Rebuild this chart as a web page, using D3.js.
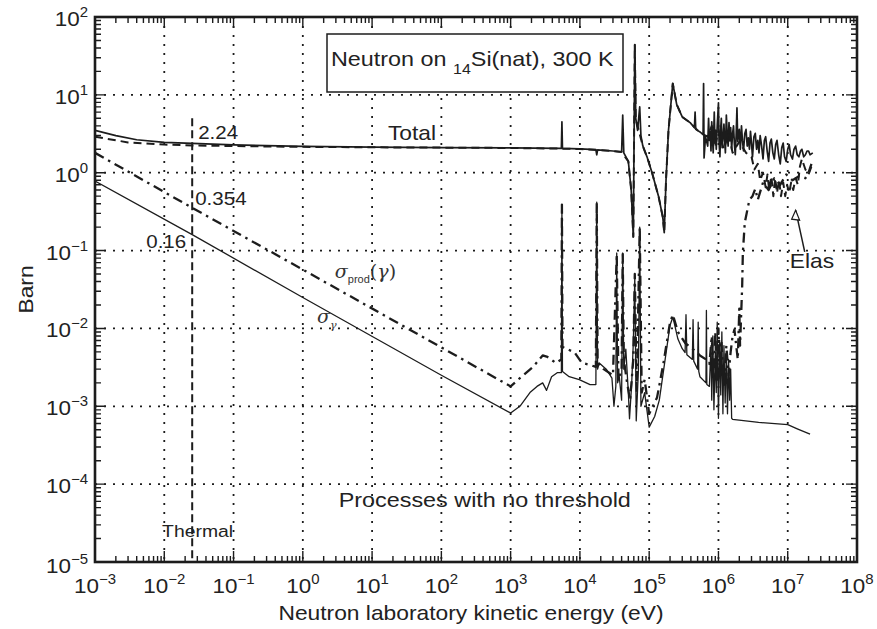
<!DOCTYPE html>
<html>
<head>
<meta charset="utf-8">
<script src="https://cdn.jsdelivr.net/npm/d3@7"></script>
<style>
body { margin: 0; background: #fff; }
svg { font-family: "Liberation Sans", Arial, sans-serif; }
</style>
</head>
<body>
<div class="chart"></div>
<script>
// axis decades (exponents)
const xTickExp = [-3, -2, -1, 0, 1, 2, 3, 4, 5, 6, 7, 8];
const yTickExp = [-5, -4, -3, -2, -1, 0, 1, 2];

const thermalE = 0.0253;

// [energy eV, barn]
const totalXS = [
  [1e-3, 3.5], [2e-3, 3.0], [4e-3, 2.65], [1e-2, 2.45], [2.53e-2, 2.38], [0.1, 2.28],
  [1, 2.18], [10, 2.13], [100, 2.1], [1e3, 2.08], [5.4e3, 2.05], [5.5e3, 4.5], [5.6e3, 2.05],
  [1e4, 2.02], [1.7e4, 1.98], [1.75e4, 1.7], [1.8e4, 1.97], [3.0e4, 1.9], [4.0e4, 1.85],
  [4.15e4, 5.5], [4.3e4, 1.8], [5.0e4, 1.4], [5.5e4, 0.6], [5.9e4, 0.15], [6.2e4, 44],
  [6.4e4, 5], [6.8e4, 3.5], [7.3e4, 7], [7.6e4, 3], [8.1e4, 2.2], [9.3e4, 1.6], [1.1e5, 1.0],
  [1.37e5, 0.49], [1.57e5, 0.27], [1.65e5, 0.17], [1.75e5, 0.8], [1.9e5, 3.5], [2.19e5, 14],
  [2.5e5, 7.5], [3.0e5, 5.2], [3.9e5, 4.4], [4.5e5, 3.8], [4.6e5, 6.0], [4.7e5, 3.6],
  [5.5e5, 3.3], [6.0e5, 3.1], [6.1e5, 14], [6.2e5, 1.55], [6.5e5, 2.9],
  [7.0e5, 2.2], [7.2e5, 5.0], [7.4e5, 2.6], [7.6e5, 3.4], [7.8e5, 1.9], [8.0e5, 4.5],
  [8.2e5, 2.8], [8.4e5, 1.8], [8.7e5, 6.0], [8.9e5, 2.4], [9.1e5, 3.5], [9.3e5, 2.0],
  [9.6e5, 4.0], [1.0e6, 7.9], [1.02e6, 2.5], [1.05e6, 1.6], [1.08e6, 3.8], [1.1e6, 5.0],
  [1.13e6, 2.1], [1.17e6, 3.0], [1.2e6, 4.2], [1.23e6, 2.6], [1.26e6, 1.8], [1.3e6, 5.5],
  [1.34e6, 3.0], [1.38e6, 2.2], [1.42e6, 4.4], [1.46e6, 2.6], [1.5e6, 3.8], [1.55e6, 2.0],
  [1.6e6, 3.2], [1.65e6, 4.0], [1.7e6, 2.3], [1.75e6, 1.7], [1.8e6, 3.0], [1.85e6, 6.8],
  [1.9e6, 2.5], [2.0e6, 3.6], [2.07e6, 2.0], [2.15e6, 4.0], [2.22e6, 2.6], [2.3e6, 1.9],
  [2.4e6, 3.2], [2.5e6, 3.6], [2.6e6, 2.2], [2.7e6, 2.8], [2.8e6, 2.0], [2.9e6, 3.4],
  [3.0e6, 2.4], [3.1e6, 1.6], [3.25e6, 2.9], [3.4e6, 3.2], [3.55e6, 2.0], [3.7e6, 2.6],
  [3.85e6, 1.8], [4.0e6, 3.0], [4.2e6, 2.2], [4.4e6, 1.5], [4.6e6, 2.6], [4.8e6, 2.9],
  [5.05e6, 1.9], [5.3e6, 1.4], [5.55e6, 2.4], [5.8e6, 2.7], [6.1e6, 1.8], [6.4e6, 1.5],
  [6.7e6, 2.3], [7.0e6, 2.6], [7.4e6, 1.7], [7.8e6, 1.3], [8.2e6, 2.1], [8.6e6, 2.4],
  [9.0e6, 1.6], [9.5e6, 1.4], [1.0e7, 2.0], [1.05e7, 2.3], [1.1e7, 1.7], [1.17e7, 1.5],
  [1.23e7, 2.0], [1.3e7, 2.2], [1.37e7, 1.7], [1.45e7, 1.6], [1.53e7, 1.9], [1.6e7, 2.0],
  [1.7e7, 1.6], [1.8e7, 1.7], [1.9e7, 1.9], [2.0e7, 1.9], [2.1e7, 1.7], [2.3e7, 1.8]
];

const elasticXS = [
  [1e-3, 2.9], [3e-3, 2.45], [1e-2, 2.3], [2.53e-2, 2.24], [0.1, 2.2], [1, 2.15],
  [10, 2.12], [100, 2.1], [1e3, 2.08], [1e4, 2.02], [3e4, 1.9], [4.0e4, 1.85], [5.0e4, 1.4],
  [5.5e4, 0.6], [5.9e4, 0.15], [6.2e4, 44], [6.4e4, 5], [7.0e4, 3.6], [8.1e4, 2.2],
  [9.3e4, 1.6], [1.1e5, 1.0], [1.37e5, 0.49], [1.57e5, 0.27], [1.65e5, 0.17], [1.75e5, 0.8],
  [1.9e5, 3.5], [2.19e5, 14], [2.5e5, 7.5], [3.0e5, 5.2], [3.9e5, 4.4], [5e5, 3.5],
  [6e5, 3.1], [7e5, 2.9], [8e5, 4.0], [9e5, 2.2], [1e6, 3.5], [1.2e6, 2.0], [1.4e6, 3.2],
  [1.6e6, 1.8], [2.0e6, 2.5], [2.5e6, 1.8], [3.0e6, 1.6], [3.3e6, 1.1], [3.7e6, 1.3],
  [4.0e6, 0.8], [4.4e6, 1.0], [4.8e6, 0.65], [5.1e6, 0.95], [5.4e6, 0.6], [5.8e6, 0.9],
  [6.2e6, 0.5], [6.6e6, 0.85], [7.0e6, 0.55], [7.5e6, 0.8], [8.0e6, 0.5], [8.6e6, 0.75],
  [9.2e6, 0.5], [9.8e6, 0.7], [1.05e7, 0.55], [1.12e7, 0.75], [1.2e7, 0.6], [1.3e7, 0.85],
  [1.4e7, 0.7], [1.5e7, 1.2], [1.6e7, 1.5], [1.8e7, 1.1], [2.0e7, 0.95], [2.2e7, 1.2]
];

const gammaProdXS = [
  [1e-3, 1.8], [2.53e-2, 0.354], [1, 0.057], [100, 5.7e-3], [1e3, 1.8e-3], [1.36e3, 2.3e-3],
  [2.1e3, 3.2e-3], [2.9e3, 4.5e-3], [3.4e3, 4.3e-3], [4.5e3, 3.6e-3], [5.4e3, 4.0e-3],
  [5.5e3, 0.39], [5.6e3, 5.8e-3], [8.4e3, 4.9e-3], [1.07e4, 3.6e-3], [1.4e4, 3.4e-3],
  [1.7e4, 3.2e-3], [1.75e4, 0.42], [1.8e4, 3.6e-3], [2.2e4, 3.0e-3], [3.0e4, 2.5e-3],
  [3.4e4, 0.09], [3.6e4, 2.2e-3], [4.0e4, 3.0e-3], [4.15e4, 0.09], [4.3e4, 4.0e-3],
  [4.8e4, 2.0e-3], [5.3e4, 1.2e-3], [5.9e4, 4.0e-3], [6.2e4, 0.05], [6.6e4, 1.5e-3],
  [7.3e4, 0.2], [7.8e4, 1.5e-3], [8.6e4, 2.2e-3], [1.0e5, 8e-4], [1.3e5, 1.3e-3],
  [1.6e5, 3.5e-3], [2.0e5, 1.2e-2], [2.2e5, 1.5e-2], [2.6e5, 9e-3], [3.3e5, 6.5e-3],
  [4.2e5, 5.5e-3], [5.4e5, 4.5e-3], [6.6e5, 4.0e-3], [7.4e5, 3.5e-3], [8.0e5, 8e-3],
  [8.5e5, 2.5e-3], [9.0e5, 9e-3], [9.5e5, 2e-3], [1.0e6, 1.0e-2], [1.05e6, 2.5e-3],
  [1.1e6, 7e-3], [1.2e6, 1.8e-3], [1.3e6, 6e-3], [1.4e6, 2.5e-3], [1.5e6, 5e-3],
  [1.6e6, 8e-3], [1.7e6, 9.7e-3], [1.9e6, 4e-3], [2.0e6, 1.8e-2], [2.05e6, 6e-3],
  [2.2e6, 3.5e-2], [2.25e6, 0.094], [2.4e6, 0.23], [2.8e6, 0.45], [3.1e6, 0.5],
  [3.4e6, 0.62], [3.7e6, 0.45], [4.4e6, 0.75], [5.3e6, 0.6], [6.4e6, 0.85], [7.8e6, 0.7],
  [9.5e6, 0.95], [1.17e7, 0.8], [1.45e7, 0.9], [1.8e7, 0.85], [2.0e7, 1.0], [2.2e7, 1.3]
];

const captureXS = [
  [1e-3, 0.78], [2.53e-2, 0.16], [1, 0.025], [100, 2.5e-3], [1e3, 8.2e-4], [1.36e3, 1.0e-3],
  [1.9e3, 1.5e-3], [2.4e3, 1.8e-3], [2.9e3, 2.0e-3], [3.3e3, 1.6e-3], [3.9e3, 2.4e-3],
  [4.7e3, 2.7e-3], [5.4e3, 2.7e-3], [5.5e3, 0.39], [5.6e3, 2.8e-3], [7.0e3, 2.4e-3],
  [9.8e3, 2.2e-3], [1.4e4, 1.9e-3], [1.7e4, 1.9e-3], [1.75e4, 0.42], [1.8e4, 3.0e-3],
  [1.9e4, 3.6e-3], [2.4e4, 3.0e-3], [2.9e4, 2.3e-3], [3.1e4, 1.0e-3], [3.3e4, 1.8e-3],
  [3.4e4, 0.093], [3.5e4, 2.0e-3], [3.7e4, 2.4e-3], [4.0e4, 1.2e-3], [4.15e4, 0.093],
  [4.3e4, 3.0e-3], [4.6e4, 5.4e-3], [5.0e4, 1.5e-3], [5.2e4, 6.9e-4], [5.6e4, 2.0e-3],
  [5.9e4, 6.6e-3], [6.2e4, 0.045], [6.5e4, 6.5e-4], [7.0e4, 3e-3], [7.3e4, 0.2],
  [7.6e4, 1.0e-3], [8.6e4, 1.5e-3], [1.0e5, 5.4e-4], [1.2e5, 7.4e-4], [1.4e5, 1.2e-3],
  [1.7e5, 4.0e-3], [2.0e5, 1.1e-2], [2.2e5, 1.4e-2], [2.6e5, 7.3e-3], [3.0e5, 5.5e-3],
  [3.3e5, 4.9e-3], [3.4e5, 1.5e-2], [3.5e5, 4.6e-3], [4.2e5, 4.0e-3], [4.3e5, 1.3e-2],
  [4.4e5, 3.8e-3], [5.0e5, 3.0e-3], [5.1e5, 1.2e-2], [5.2e5, 2.8e-3], [5.4e5, 2.4e-3],
  [6.6e5, 2.0e-3], [6.7e5, 1.7e-2], [6.8e5, 1.9e-3], [7.4e5, 1.8e-3], [7.8e5, 6e-3],
  [8.0e5, 1.2e-3], [8.3e5, 8e-3], [8.6e5, 9e-4], [9.0e5, 5e-3], [9.3e5, 1.5e-3],
  [9.6e5, 1.2e-2], [1.0e6, 7e-4], [1.04e6, 7e-3], [1.08e6, 1.4e-3], [1.12e6, 9e-3],
  [1.16e6, 8e-4], [1.2e6, 6e-3], [1.25e6, 1.1e-3], [1.3e6, 5e-3], [1.35e6, 8e-4],
  [1.4e6, 4e-3], [1.45e6, 1.2e-3], [1.5e6, 3e-3], [1.55e6, 7e-4], [1.6e6, 6.8e-4],
  [3.8e6, 6.2e-4], [1.0e7, 5.8e-4], [1.4e7, 5.1e-4], [2.1e7, 4.4e-4]
];

const margin = {top: 17, right: 20, bottom: 67, left: 95};
const width = 877, height = 629;
const plotW = width - margin.left - margin.right,
    plotH = height - margin.top - margin.bottom;
const ink = "#1c1c1c";
const stretch = 1.14; // the lettering in the scan is a bit wide

const svg = d3.select(".chart").append("svg")
    .attr("width", width)
    .attr("height", height);

const g = svg.append("g")
    .attr("transform", "translate(" + margin.left + "," + margin.top + ")");

const xScale = d3.scaleLog().domain([1e-3, 1e8]).range([0, plotW]);
const yScale = d3.scaleLog().domain([1e-5, 1e2]).range([plotH, 0]);

// text placed at (x,y), widened horizontally
function label(parent, x, y, size, sx, anchor) {
  return parent.append("text")
    .attr("transform", "translate(" + x + "," + y + ") scale(" + (sx || stretch) + ",1)")
    .attr("font-size", size)
    .attr("text-anchor", anchor || "start")
    .attr("fill", "#222");
}

g.append("clipPath").attr("id", "plotclip")
  .append("rect").attr("width", plotW).attr("height", plotH);

// dotted grid
const grid = g.append("g").attr("stroke", ink).attr("stroke-width", 1.8)
    .attr("stroke-dasharray", "2,7");
grid.selectAll(".vg").data(xTickExp.slice(1, -1)).enter().append("line")
    .attr("x1", d => xScale(Math.pow(10, d))).attr("x2", d => xScale(Math.pow(10, d)))
    .attr("y1", 0).attr("y2", plotH);
grid.selectAll(".hg").data(yTickExp.slice(1, -1)).enter().append("line")
    .attr("y1", d => yScale(Math.pow(10, d))).attr("y2", d => yScale(Math.pow(10, d)))
    .attr("x1", 0).attr("x2", plotW);

// title box
const box = g.append("g");
box.append("rect")
    .attr("x", 232).attr("y", 17).attr("width", 296).attr("height", 58)
    .attr("fill", "#fff").attr("stroke", ink).attr("stroke-width", 1.5);
const title = label(box, 236, 49, 20.5);
title.append("tspan").text("Neutron on ");
title.append("tspan").attr("font-size", 14).attr("dy", 8).text("14");
title.append("tspan").attr("dy", -8).text("Si(nat), 300 K");

const line = d3.line()
    .x(d => xScale(d[0]))
    .y(d => yScale(d[1]));

const curves = g.append("g").attr("clip-path", "url(#plotclip)").attr("fill", "none")
    .attr("stroke", ink).attr("stroke-linejoin", "round");

curves.append("path").datum(captureXS).attr("d", line).attr("stroke-width", 1.3);
curves.append("path").datum(gammaProdXS).attr("d", line).attr("stroke-width", 2.3)
    .attr("stroke-dasharray", "10,5,2.5,5");
curves.append("path").datum(totalXS).attr("d", line).attr("stroke-width", 1.7);
curves.append("path").datum(elasticXS).attr("d", line).attr("stroke-width", 2)
    .attr("stroke-dasharray", "8,5");

// thermal line
g.append("line")
    .attr("x1", xScale(thermalE)).attr("x2", xScale(thermalE))
    .attr("y1", yScale(5)).attr("y2", plotH)
    .attr("stroke", ink).attr("stroke-width", 2).attr("stroke-dasharray", "8,4");

// annotations
const ann = g.append("g");
const tx = xScale(thermalE);
label(ann, tx + 6, yScale(2.24) - 6, 18).text("2.24");
label(ann, tx + 3, yScale(0.354) - 3, 18).text("0.354");
label(ann, tx - 6, yScale(0.16) + 13, 18, stretch, "end").text("0.16");
label(ann, xScale(16.9), yScale(2.63), 20).text("Total");
label(ann, xScale(9.3e-3), yScale(2.1e-5), 17).text("Thermal");
label(ann, xScale(3.3), yScale(5.1e-5), 20.5).text("Processes with no threshold");
label(ann, xScale(1.07e7), yScale(0.06), 20).text("Elas");

const sp = label(ann, xScale(2.9), yScale(0.045), 19, 1).attr("fill", "#333");
sp.append("tspan").attr("font-family", "DejaVu Serif, serif").attr("font-style", "italic").text("σ");
sp.append("tspan").attr("font-size", 11).attr("dy", 5).text("prod");
sp.append("tspan").attr("dy", -5).attr("font-family", "DejaVu Serif, serif").text("(");
sp.append("tspan").attr("font-family", "DejaVu Serif, serif").attr("font-style", "italic").text("γ");
sp.append("tspan").attr("font-family", "DejaVu Serif, serif").text(")");

const sg = label(ann, xScale(1.6), yScale(0.0118), 19, 1).attr("fill", "#333");
sg.append("tspan").attr("font-family", "DejaVu Serif, serif").attr("font-style", "italic").text("σ");
sg.append("tspan").attr("font-size", 11).attr("dy", 6)
    .attr("font-family", "DejaVu Serif, serif").attr("font-style", "italic").text("γ");

// Elas pointer
const p0 = [xScale(1.76e7), yScale(0.096)], p1 = [xScale(1.3e7), yScale(0.33)];
g.append("line").attr("x1", p0[0]).attr("y1", p0[1]).attr("x2", p1[0]).attr("y2", p1[1])
    .attr("stroke", ink).attr("stroke-width", 1.5);
g.append("path")
    .attr("d", `M${p1[0]},${p1[1]} l-4,9 l8,1 z`)
    .attr("fill", "#fff").attr("stroke", ink).attr("stroke-width", 1.2);

// ticks, all inside the frame
const majorX = xTickExp.map(e => Math.pow(10, e));
const majorY = yTickExp.map(e => Math.pow(10, e));
const minorX = [], minorY = [];
xTickExp.slice(0, -1).forEach(e => { for (let m = 2; m < 10; m++) minorX.push(m * Math.pow(10, e)); });
yTickExp.slice(0, -1).forEach(e => { for (let m = 2; m < 10; m++) minorY.push(m * Math.pow(10, e)); });

const ticks = g.append("g").attr("stroke", ink).attr("stroke-width", 1.4);
[[majorX, 11], [minorX, 6]].forEach(([vals, len]) => {
  ticks.selectAll(null).data(vals).enter().append("path")
    .attr("d", d => `M${xScale(d)},${plotH}v${-len}M${xScale(d)},0v${len}`);
});
[[majorY, 11], [minorY, 6]].forEach(([vals, len]) => {
  ticks.selectAll(null).data(vals).enter().append("path")
    .attr("d", d => `M0,${yScale(d)}h${len}M${plotW},${yScale(d)}h${-len}`);
});

g.append("rect").attr("width", plotW).attr("height", plotH)
    .attr("fill", "none").attr("stroke", ink).attr("stroke-width", 2.6);

// tick labels
const fmtExp = e => (e < 0 ? "\u2212" + (-e) : "" + e);
xTickExp.forEach(e => {
  const t = label(g, xScale(Math.pow(10, e)), plotH + 31, 21, 1.07, "middle");
  t.append("tspan").text("10");
  t.append("tspan").attr("font-size", 14).attr("dy", -9).text(fmtExp(e));
});
yTickExp.forEach(e => {
  const t = label(g, -7, yScale(Math.pow(10, e)) + (e === -5 ? 11 : 9), 21, 1.07, "end");
  t.append("tspan").text("10");
  t.append("tspan").attr("font-size", 14).attr("dy", -9).text(fmtExp(e));
});

// axis titles
label(svg, margin.left + plotW / 2 - 5, 620, 20, stretch, "middle")
    .text("Neutron laboratory kinetic energy (eV)");
svg.append("text")
    .attr("transform", "translate(33," + (margin.top + plotH / 2) + ") rotate(-90) scale(" + stretch + ",1)")
    .attr("text-anchor", "middle").attr("font-size", 20).attr("fill", "#222")
    .text("Barn");
</script>
</body>
</html>
